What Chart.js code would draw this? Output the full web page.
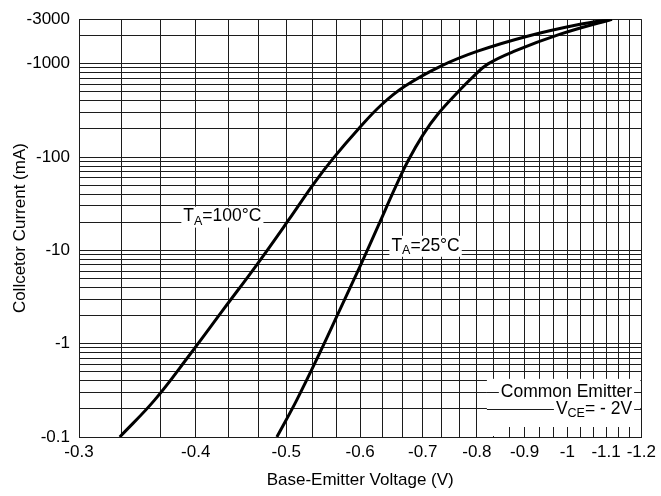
<!DOCTYPE html>
<html>
<head>
<meta charset="utf-8">
<script src="https://cdn.jsdelivr.net/npm/chart.js@4/dist/chart.umd.min.js"></script>
<style>
  html, body { margin: 0; padding: 0; background: #fff; }
  #wrap { width: 661px; height: 496px; }
</style>
</head>
<body>
<div id="wrap"><canvas id="myChart"></canvas></div>
<script>
// base-emitter voltage magnitude (V) and collector current magnitude (mA)
const vbe100 = [0.3317, 0.3614, 0.3938, 0.4291, 0.4652, 0.5032, 0.5350, 0.5619, 0.5974, 0.6320, 0.6703, 0.7321, 0.8016, 0.9061, 1.0318, 1.116];
const ic100  = [0.1, 0.2485, 0.752, 2.389, 7.05, 21.3, 51.7, 98, 200, 361, 576, 943, 1363, 1972, 2649, 3000];
const vbe25  = [0.4886, 0.5131, 0.5416, 0.5716, 0.6003, 0.6274, 0.6541, 0.6752, 0.7005, 0.7268, 0.7689, 0.7919, 0.8215, 0.8777, 0.9825, 1.116];
const ic25   = [0.1, 0.2485, 0.752, 2.389, 6.88, 18.4, 46.9, 91.1, 172.7, 289, 535, 719, 990, 1363, 2072, 3000];

const xLabels = [0.3, 0.4, 0.5, 0.6, 0.7, 0.8, 0.9, 1, 1.1, 1.2];
const yLabels = [0.1, 1, 10, 100, 1000, 3000];

const FONT = '"Liberation Sans", Arial, Helvetica, sans-serif';
const GRID = '#1c1c1c';

// grid lines: every 1/30 V on x, 1..9 per decade on y
const xGrid = [];
for (let i = 0; i <= 27; i++) xGrid.push(Math.round((0.3 + i / 30) * 1e6) / 1e6);
const yGrid = [];
[0.1, 1, 10, 100].forEach(d => { for (let m = 1; m <= 9; m++) yGrid.push(Math.round(d * m * 1e6) / 1e6); });
yGrid.push(1000, 2000, 3000);

const pick = (v, list) => list.find(l => Math.abs(l - v) < 1e-6 * Math.max(1, l));

function richText(ctx, parts, x, y, align) {
  const big = '17.5px ' + FONT, small = '12.5px ' + FONT;
  let w = 0;
  parts.forEach(p => { ctx.font = p[1] ? small : big; w += ctx.measureText(p[0]).width; });
  let sx = align === 'right' ? x - w : x;
  ctx.fillStyle = '#fff';
  ctx.fillRect(sx - 2, y - 10, w + 4, 21);
  ctx.fillStyle = '#000';
  ctx.textBaseline = 'middle';
  ctx.textAlign = 'left';
  parts.forEach(p => {
    ctx.font = p[1] ? small : big;
    ctx.fillText(p[0], sx, p[1] ? y + 5 : y);
    sx += ctx.measureText(p[0]).width;
  });
}

const overlay = {
  id: 'overlay',
  beforeDatasetsDraw(chart) {
    const { ctx, chartArea } = chart;
    const x = chart.scales.x, y = chart.scales.y;
    const bx = x.getPixelForValue(0.82);
    const top = y.getPixelForValue(0.42), bot = y.getPixelForValue(0.128);
    ctx.save();
    ctx.fillStyle = '#fff';
    ctx.fillRect(bx, top, chartArea.right - bx - 1, bot - top);
    // no stub under the first covered line
    ctx.fillRect(bx, bot - 1, x.getPixelForValue(0.85) - bx, chartArea.bottom - bot);
    ctx.strokeStyle = GRID;
    ctx.lineWidth = 1;
    [0.3, 0.2].forEach(v => {
      const py = Math.round(y.getPixelForValue(v)) + 0.5;
      ctx.beginPath();
      ctx.moveTo(bx, py);
      ctx.lineTo(chartArea.right, py);
      ctx.stroke();
    });
    ctx.restore();
  },
  afterDatasetsDraw(chart) {
    const { ctx } = chart;
    const x = chart.scales.x, y = chart.scales.y;
    ctx.save();
    richText(ctx, [['T', false], ['A', true], ['=100°C', false]], x.getPixelForValue(0.388), y.getPixelForValue(23), 'left');
    richText(ctx, [['T', false], ['A', true], ['=25°C', false]], x.getPixelForValue(0.648), y.getPixelForValue(11.2), 'left');
    const rx = x.getPixelForValue(1.173);
    richText(ctx, [['Common Emitter', false]], rx, y.getPixelForValue(0.3), 'right');
    richText(ctx, [['V', false], ['CE', true], ['= - 2V', false]], rx, y.getPixelForValue(0.2), 'right');
    ctx.restore();
  }
};

Chart.defaults.font.family = FONT;
Chart.defaults.font.size = 17;
Chart.defaults.color = '#000';

new Chart(document.getElementById('myChart'), {
  type: 'line',
  data: {
    datasets: [
      {
        data: vbe100.map((v, i) => ({ x: v, y: ic100[i] })),
        borderColor: '#000',
        borderWidth: 3,
        pointRadius: 0,
        tension: 0.4,
      },
      {
        data: vbe25.map((v, i) => ({ x: v, y: ic25[i] })),
        borderColor: '#000',
        borderWidth: 3,
        pointRadius: 0,
        tension: 0.4,
      },
    ],
  },
  plugins: [overlay],
  options: {
    responsive: true,
    maintainAspectRatio: false,
    animation: false,
    layout: { padding: { top: 17, right: 18, left: 0, bottom: 0 } },
    scales: {
      x: {
        type: 'logarithmic',
        min: 0.3,
        max: 1.2,
        afterBuildTicks: (s) => { s.ticks = xGrid.map(v => ({ value: v })); },
        afterFit: (s) => { s.height = 59; },
        grid: { color: GRID, lineWidth: 1, drawTicks: false },
        border: { color: GRID },
        ticks: {
          autoSkip: false,
          maxRotation: 0,
          padding: 5,
          callback: (v) => { const l = pick(v, xLabels); return l === undefined ? '' : '-' + l; },
        },
        title: { display: true, text: 'Base-Emitter Voltage (V)', padding: { top: 0, bottom: 5 } },
      },
      y: {
        type: 'logarithmic',
        min: 0.1,
        max: 3000,
        afterBuildTicks: (s) => { s.ticks = yGrid.map(v => ({ value: v })); },
        afterFit: (s) => { s.width = 79; },
        grid: { color: GRID, lineWidth: 1, drawTicks: false },
        border: { color: GRID },
        ticks: {
          autoSkip: false,
          padding: 9,
          callback: (v) => { const l = pick(v, yLabels); return l === undefined ? '' : '-' + l; },
        },
        title: { display: true, text: 'Collcetor Current (mA)', padding: { top: 10, bottom: 0 } },
      },
    },
    plugins: {
      legend: { display: false },
      tooltip: { enabled: false },
    },
  },
});
</script>
</body>
</html>
